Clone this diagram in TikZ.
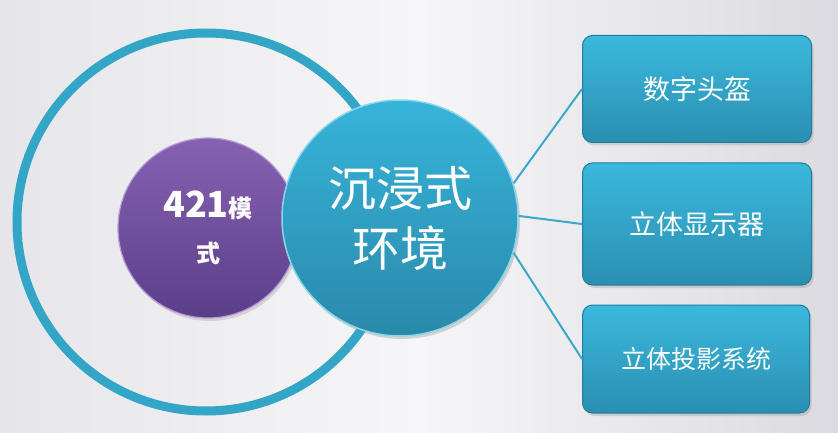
\documentclass[tikz,border=0pt]{standalone}
\usepackage{fontspec}
\newfontfamily\cjk{Noto Sans CJK SC}
\usetikzlibrary{shadows}
\definecolor{bgL}{HTML}{E6E6EA}
\definecolor{bgM}{HTML}{F6F6F8}
\definecolor{bgR}{HTML}{DADAE0}
\definecolor{tealT}{HTML}{37B4DA}
\definecolor{tealB}{HTML}{2A89AB}
\definecolor{tealRim}{HTML}{8CD6EA}
\definecolor{ringC}{HTML}{33A6C7}
\definecolor{purT}{HTML}{8762B2}
\definecolor{purB}{HTML}{5B3E89}
\definecolor{purRim}{HTML}{B79AD8}
\definecolor{boxT}{HTML}{3BB8DD}
\definecolor{boxB}{HTML}{2A8FB1}
\definecolor{boxE}{HTML}{1F7C9D}
\definecolor{connC}{HTML}{3AA9C9}
\begin{document}
\begin{tikzpicture}[x=1pt,y=-1pt,
  ringstyle/.style={circle, draw=ringC, line width=9pt, minimum size=378pt, inner sep=0pt},
  purpleball/.style={circle, draw=purRim, line width=1.2pt, top color=purT, bottom color=purB,
     minimum size=180pt, inner sep=0pt, text=white, align=center,
     font=\cjk\bfseries\fontsize{24}{45}\selectfont,
     drop shadow={opacity=0.25, shadow xshift=2pt, shadow yshift=-3pt}},
  tealball/.style={circle, draw=tealRim, line width=1.5pt, top color=tealT, bottom color=tealB,
     minimum size=236pt, inner sep=0pt, text=white, align=center,
     font=\cjk\fontsize{48}{60}\selectfont,
     drop shadow={opacity=0.3, shadow xshift=2pt, shadow yshift=-3pt}},
  itembox/.style={rectangle, rounded corners=10pt, draw=boxE, line width=1pt,
     top color=boxT, bottom color=boxB, text=white, align=center, inner sep=0pt,
     font=\cjk\fontsize{27}{32}\selectfont,
     drop shadow={opacity=0.25, shadow xshift=2pt, shadow yshift=-3pt}},
  conn/.style={draw=connC, line width=2pt}
]
\useasboundingbox (0,0) rectangle (838,433);
\shade[left color=bgL, right color=bgR, middle color=bgM] (0,0) rectangle (838,433);

\node[ringstyle] (ring) at (206,222) {};
\node[purpleball] (mode) at (208,228)
  {{\fontsize{36}{45}\selectfont 421}模\\式};
\node[tealball] (env) at (400,218) {沉浸式\\环境};

\node[itembox, minimum width=229pt, minimum height=107pt] (b1) at (697,89) {数字头盔};
\node[itembox, minimum width=229pt, minimum height=122pt] (b2) at (697,224) {立体显示器};
\node[itembox, minimum width=227pt, minimum height=108pt, font=\cjk\fontsize{25}{30}\selectfont] (b3) at (696,359) {立体投影系统};

\draw[conn] (env.17) -- (b1.west);
\draw[conn] (env.1) -- (b2.west);
\draw[conn] (env.-17) -- (b3.west);
\end{tikzpicture}
\end{document}
